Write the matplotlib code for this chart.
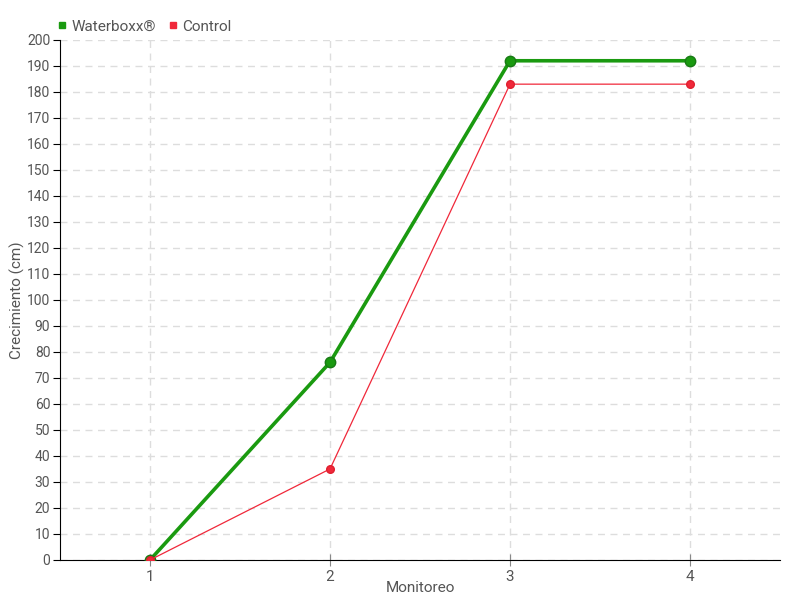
import matplotlib
matplotlib.use('Agg')
import matplotlib.pyplot as plt
from matplotlib.lines import Line2D

plt.rcParams['font.family'] = ['Roboto', 'DejaVu Sans']
plt.rcParams['font.size'] = 11

monitoreo = [1, 2, 3, 4]
waterboxx = [0, 76, 192, 192]
control = [0, 35, 183, 183]
y_ticks = list(range(0, 201, 10))

txt = '#555555'
fig = plt.figure(figsize=(8, 6), dpi=100)
ax = fig.add_axes([0.075, 0.0667, 0.9, 0.8667])

ax.plot(monitoreo, waterboxx, color='#1a9a10', linewidth=2.6, marker='o',
        markersize=7.5, markeredgecolor='#187a14', zorder=3)
ax.plot(monitoreo, control, color='#f0283a', linewidth=0.9, marker='o',
        markersize=5.5, markeredgecolor='#e0202f', zorder=4)

ax.set_xlim(0.5, 4.5)
ax.set_ylim(0, 200)
ax.set_xticks(monitoreo)
ax.set_yticks(y_ticks)
ax.grid(True, color='#dddddd', linestyle=(0, (5, 4)), linewidth=1)
ax.set_axisbelow(True)
for s in ['top', 'right']:
    ax.spines[s].set_visible(False)
ax.spines['left'].set_color('black')
ax.spines['bottom'].set_color('black')
ax.tick_params(axis='y', direction='out', length=5, pad=2, colors='black', labelcolor=txt, labelsize=10)
ax.tick_params(axis='x', direction='inout', length=8, colors='#888888', labelcolor=txt, labelsize=11)

ax.set_xlabel('Monitoreo', color=txt, fontsize=11)
ax.xaxis.set_label_coords(0.5, -0.04)
ax.set_ylabel('Crecimiento (cm)', color=txt, fontsize=11)
ax.yaxis.set_label_coords(-0.049, 0.5)

handles = [Line2D([], [], linestyle='none', marker='s', markersize=5, color='#1a9a10'),
           Line2D([], [], linestyle='none', marker='s', markersize=5, color='#f0283a')]
fig.legend(handles, ['Waterboxx®', 'Control'], loc='upper left', bbox_to_anchor=(0.055, 0.99),
           ncol=2, frameon=False, handlelength=0.6, handletextpad=0.3, columnspacing=0.8,
           labelcolor=txt, fontsize=11)

fig.savefig('out.png', dpi=100)
